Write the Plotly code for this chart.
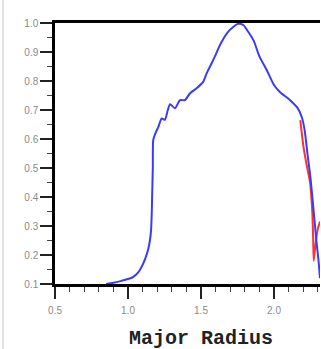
import plotly.graph_objects as go

# Blue profile
blue_x = [0.85, 0.90, 0.95, 1.00, 1.034, 1.07, 1.10, 1.12, 1.137, 1.15, 1.158, 1.163, 1.166, 1.170,
          1.173, 1.190, 1.208, 1.231, 1.253, 1.270, 1.288, 1.322, 1.356, 1.390, 1.425, 1.470, 1.516,
          1.540, 1.573, 1.600, 1.630, 1.680, 1.720, 1.755, 1.790, 1.815, 1.860, 1.900, 1.950, 2.000,
          2.040, 2.070, 2.110, 2.160, 2.190, 2.210, 2.230, 2.250, 2.270, 2.290, 2.305, 2.315]
blue_y = [0.100, 0.104, 0.110, 0.117, 0.124, 0.140, 0.166, 0.190, 0.217, 0.250, 0.286, 0.350, 0.420, 0.500,
          0.597, 0.622, 0.642, 0.671, 0.666, 0.695, 0.720, 0.706, 0.734, 0.734, 0.758, 0.775, 0.798,
          0.828, 0.861, 0.890, 0.924, 0.966, 0.986, 0.997, 0.993, 0.976, 0.940, 0.885, 0.838, 0.786,
          0.762, 0.750, 0.734, 0.708, 0.676, 0.630, 0.545, 0.465, 0.360, 0.250, 0.180, 0.120]

# Red profile
red_x = [2.180, 2.200, 2.220, 2.247, 2.262, 2.268, 2.272, 2.285, 2.300, 2.315]
red_y = [0.665, 0.580, 0.520, 0.450, 0.350, 0.260, 0.180, 0.240, 0.290, 0.315]

x_ticks = [0.5, 1.0, 1.5, 2.0]
y_ticks = [0.1, 0.2, 0.3, 0.4, 0.5, 0.6, 0.7, 0.8, 0.9, 1.0]

fig = go.Figure()
fig.add_trace(go.Scatter(x=red_x, y=red_y, mode="lines",
                         line=dict(color="#ff3030", width=2, shape="spline", smoothing=0.5),
                         showlegend=False))
fig.add_trace(go.Scatter(x=blue_x, y=blue_y, mode="lines",
                         line=dict(color="#3a3aff", width=2, shape="spline", smoothing=0.6),
                         showlegend=False))

fig.update_layout(
    width=321, height=349,
    margin=dict(l=55, r=1, t=23, b=65),
    paper_bgcolor="white", plot_bgcolor="white",
    showlegend=False,
    xaxis=dict(range=[0.5, 2.315], tickvals=x_ticks, ticktext=[f"{v:.1f}" for v in x_ticks],
               showgrid=False, zeroline=False, showline=True, linecolor="black", linewidth=2.5,
               mirror=True, ticks="outside", ticklen=12, tickwidth=2, tickcolor="#222",
               ticklabelstandoff=3,
               tickfont=dict(family="Liberation Sans", size=10, color="#8a8a8a"),
               minor=dict(dtick=0.1, tick0=0.5, ticks="outside", ticklen=5, tickwidth=1, tickcolor="#444")),
    yaxis=dict(range=[0.1, 1.0], tickvals=y_ticks, ticktext=[f"{v:.1f}" for v in y_ticks],
               showgrid=False, zeroline=False, showline=True, linecolor="black", linewidth=2.5,
               mirror=False, ticks="outside", ticklen=12, tickwidth=2, tickcolor="#222",
               tickfont=dict(family="Liberation Sans", size=10, color="#8a8a8a"),
               minor=dict(dtick=0.05, tick0=0.1, ticks="outside", ticklen=5, tickwidth=1, tickcolor="#444")),
    annotations=[dict(text="<b>Major Radius</b>", xref="paper", yref="paper",
                      x=0.551, y=-0.207, xanchor="center", yanchor="middle", showarrow=False,
                      font=dict(family="Liberation Mono", size=20, color="#222"))],
    shapes=[dict(type="line", xref="paper", yref="paper", x0=-0.196, x1=-0.196, y0=-0.25, y1=1.09,
                 line=dict(color="#e2e2e2", width=2))],
)

fig.write_html("out.html")
